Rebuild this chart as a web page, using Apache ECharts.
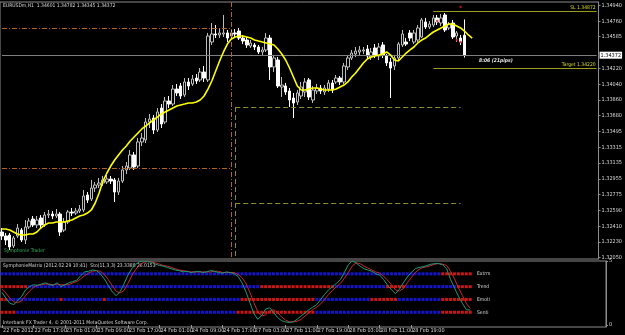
<!DOCTYPE html>
<html><head><meta charset="utf-8">
<script src="https://cdn.jsdelivr.net/npm/echarts@6/dist/echarts.min.js"></script>
<style>html,body{margin:0;padding:0;background:#000;}#c{width:625px;height:335px;}</style>
</head><body><div id="c"></div>
<script>
const timeLabels = ['22 Feb 2012','22 Feb 17:00','23 Feb 01:00','23 Feb 09:00','23 Feb 17:00','24 Feb 01:00','24 Feb 09:00','24 Feb 17:00','27 Feb 03:00','27 Feb 11:00','27 Feb 19:00','28 Feb 03:00','28 Feb 11:00','28 Feb 19:00','29 Feb 03:00'];
const priceTicks = [1.32050,1.32230,1.32410,1.32590,1.32775,1.32955,1.33135,1.33315,1.33495,1.33680,1.33860,1.34040,1.34220,1.34585,1.34760,1.34940];
const openP = [1.32344,1.32299,1.32310,1.32184,1.32299,1.32367,1.32253,1.32402,1.32493,1.32425,
1.32505,1.32425,1.32539,1.32551,1.32528,1.32551,1.32367,1.32459,1.32574,1.32562,
1.32585,1.32597,1.32769,1.32723,1.32849,1.32883,1.32906,1.32918,1.32952,1.32941,
1.32803,1.32929,1.33056,1.33078,1.33228,1.33101,1.33377,1.33400,1.33606,1.33652,
1.33514,1.33766,1.33606,1.33847,1.33812,1.33984,1.34019,1.33916,1.34065,1.34042,
1.34110,1.34088,1.34179,1.34088,1.34523,1.34615,1.34604,1.34615,1.34627,1.34592,
1.34627,1.34649,1.34569,1.34546,1.34477,1.34489,1.34466,1.34409,1.34432,1.34569,
1.34237,1.34317,1.34007,1.34019,1.33961,1.33881,1.33835,1.33904,1.33950,1.34088,
1.33858,1.33961,1.33996,1.33950,1.33984,1.34053,1.34065,1.34110,1.34065,1.34237,
1.34340,1.34386,1.34409,1.34420,1.34443,1.34351,1.34455,1.34363,1.34489,1.34363,
1.34294,1.34248,1.34340,1.34489,1.34523,1.34627,1.34523,1.34546,1.34581,1.34753,
1.34695,1.34718,1.34799,1.34741,1.34833,1.34684,1.34741,1.34592,1.34569,1.34601];
const closeP = [1.32299,1.32253,1.32173,1.32276,1.32390,1.32253,1.32402,1.32471,1.32425,1.32482,
1.32425,1.32539,1.32551,1.32528,1.32551,1.32344,1.32459,1.32574,1.32562,1.32585,
1.32608,1.32757,1.32711,1.32849,1.32883,1.32906,1.32941,1.32952,1.32929,1.32803,
1.32929,1.33056,1.33101,1.33228,1.33090,1.33377,1.33422,1.33606,1.33640,1.33514,
1.33721,1.33583,1.33847,1.33812,1.33984,1.33939,1.33904,1.34065,1.34019,1.34099,
1.34076,1.34179,1.34110,1.34592,1.34615,1.34604,1.34627,1.34627,1.34569,1.34627,
1.34615,1.34569,1.34535,1.34489,1.34512,1.34466,1.34409,1.34432,1.34569,1.34237,
1.34340,1.34019,1.34030,1.33950,1.33858,1.33824,1.33939,1.34007,1.34065,1.33893,
1.33973,1.33996,1.33961,1.33996,1.34053,1.33973,1.34110,1.34065,1.34248,1.34340,
1.34397,1.34420,1.34432,1.34432,1.34363,1.34409,1.34374,1.34466,1.34374,1.34283,
1.34225,1.34340,1.34500,1.34615,1.34500,1.34569,1.34627,1.34684,1.34776,1.34695,
1.34730,1.34799,1.34753,1.34799,1.34661,1.34730,1.34581,1.34627,1.34523,1.34372];
const lowP = [1.32253,1.32195,1.32138,1.32161,1.32276,1.32230,1.32207,1.32379,1.32402,1.32390,
1.32390,1.32402,1.32505,1.32493,1.32505,1.32299,1.32344,1.32436,1.32528,1.32539,
1.32562,1.32574,1.32677,1.32700,1.32803,1.32849,1.32872,1.32895,1.32895,1.32689,
1.32769,1.32906,1.33010,1.33056,1.33056,1.33078,1.33331,1.33365,1.33537,1.33468,
1.33491,1.33537,1.33583,1.33766,1.33789,1.33904,1.33870,1.33893,1.33973,1.34019,
1.34042,1.34065,1.34065,1.34065,1.34489,1.34569,1.34569,1.34581,1.34523,1.34546,
1.34581,1.34546,1.34500,1.34455,1.34455,1.34432,1.34386,1.34374,1.34409,1.34088,
1.34179,1.33996,1.33893,1.33916,1.33778,1.33652,1.33801,1.33870,1.33893,1.33858,
1.33824,1.33927,1.33927,1.33916,1.33950,1.33939,1.34042,1.34030,1.34042,1.34202,
1.34317,1.34351,1.34374,1.34386,1.34340,1.34317,1.34340,1.34317,1.34340,1.34248,
1.33881,1.34202,1.34317,1.34466,1.34477,1.34535,1.34500,1.34523,1.34569,1.34672,
1.34672,1.34695,1.34718,1.34707,1.34638,1.34661,1.34558,1.34523,1.34489,1.34345];
const highP = [1.32390,1.32333,1.32333,1.32299,1.32436,1.32390,1.32482,1.32505,1.32528,1.32528,
1.32539,1.32574,1.32597,1.32585,1.32608,1.32574,1.32505,1.32597,1.32620,1.32620,
1.32654,1.32826,1.32803,1.32941,1.32918,1.32964,1.32987,1.32998,1.32987,1.32964,
1.32964,1.33101,1.33147,1.33285,1.33262,1.33422,1.33480,1.33652,1.33698,1.33686,
1.33766,1.33812,1.33893,1.33904,1.34030,1.34042,1.34053,1.34110,1.34110,1.34145,
1.34156,1.34225,1.34248,1.34627,1.34741,1.34718,1.34684,1.34833,1.34661,1.34661,
1.34672,1.34684,1.34604,1.34581,1.34546,1.34512,1.34489,1.34466,1.34627,1.34604,
1.34374,1.34351,1.34122,1.34053,1.33996,1.33939,1.33973,1.34065,1.34110,1.34110,
1.34019,1.34042,1.34030,1.34030,1.34088,1.34088,1.34145,1.34133,1.34283,1.34374,
1.34432,1.34466,1.34477,1.34466,1.34489,1.34455,1.34500,1.34512,1.34523,1.34386,
1.34340,1.34374,1.34523,1.34661,1.34569,1.34661,1.34661,1.34718,1.34799,1.34799,
1.34764,1.34833,1.34833,1.34844,1.34856,1.34753,1.34776,1.34649,1.34604,1.34782];
const maLine = [1.32379,1.32379,1.32367,1.32344,1.32321,1.32310,1.32310,1.32321,1.32321,1.32344,
1.32390,1.32425,1.32448,1.32448,1.32459,1.32459,1.32459,1.32471,1.32482,1.32505,
1.32528,1.32540,1.32562,1.32597,1.32677,1.32792,1.32929,1.33021,1.33101,1.33170,
1.33228,1.33285,1.33331,1.33388,1.33434,1.33480,1.33526,1.33560,1.33595,1.33629,
1.33663,1.33698,1.33721,1.33744,1.33767,1.33789,1.33801,1.33812,1.33824,1.33824,
1.33835,1.33858,1.33904,1.33984,1.34076,1.34191,1.34305,1.34409,1.34500,1.34558,
1.34581,1.34592,1.34592,1.34581,1.34569,1.34546,1.34535,1.34523,1.34512,1.34500,
1.34489,1.34443,1.34386,1.34317,1.34225,1.34122,1.34019,1.33973,1.33973,1.33984,
1.33996,1.33996,1.33984,1.33973,1.33973,1.33973,1.33984,1.34007,1.34030,1.34065,
1.34122,1.34168,1.34225,1.34283,1.34328,1.34351,1.34363,1.34374,1.34386,1.34409,
1.34374,1.34317,1.34305,1.34351,1.34397,1.34432,1.34466,1.34512,1.34546,1.34569,
1.34604,1.34638,1.34661,1.34684,1.34707,1.34730,1.34730,1.34707,1.34684,1.34649,
1.34604,1.34569];
const stoMain = [51,42,34,32,38,45,55,60,63,62,64,66,63,62,66,60,63,66,68,70,
77,83,84,86,85,80,72,62,52,46,52,64,78,88,95,99,100,99,98,95,
93,92,90,88,86,85,83,84,82,83,84,82,83,85,84,82,81,83,82,80,
76,66,52,35,18,9,15,25,27,20,12,7,5,4,5,9,14,19,24,28,
32,40,48,55,60,65,71,82,94,100,97,92,88,86,84,80,78,71,62,55,
49,56,66,75,82,88,90,91,93,95,96,96,94,88,71,58,45,34,24,23.34];
const stoSignal = [56,50,42,36,35,38,46,53,59,62,63,64,64,63,64,63,63,63,66,68,
72,77,81,84,85,84,79,71,62,53,50,54,65,77,87,94,98,99,99,97,
95,93,92,90,88,86,85,84,83,83,83,83,83,83,84,84,82,82,82,82,
79,74,65,51,35,21,14,16,22,24,20,13,8,5,5,6,9,14,19,24,
28,33,40,48,54,60,65,73,82,92,97,96,92,89,86,83,81,76,70,63,
55,53,57,66,74,82,87,90,91,93,95,96,95,93,84,72,58,46,34,26.02];
const rowNames = ['Extrm','Trend','Emoti','Senti'];
const rowLevels = [4,3,2,1];
const rowRuns = [
  [['B',112],['R',8]],
  [['R',7],['B',59],['R',19],['B',13],['R',5],['B',13],['R',4]],
  [['R',2],['B',13],['R',1],['B',10],['R',1],['B',34],['R',19],['B',14],['R',7],['B',11],['R',8]],
  [['R',4],['B',56],['R',20],['B',32],['R',8]]
];
const redMarks = [[112, 1.34764], [117, 1.34546], [118, 1.34523], [118, 1.34925]];
const lastPrice = 1.34372, slPrice = 1.34872, targetPrice = 1.34220;
const orangeLevels = [1.34684, 1.33078];
const oliveLevels = [1.33778, 1.32677];
const axisMin = 1.32035, axisMax = 1.34982;

const SLOTS = 154;
const cats = Array.from({length: SLOTS}, (_, i) => String(i));
const FONT = "'Liberation Sans Narrow', 'DejaVu Sans Condensed', 'Liberation Sans', sans-serif";
const FS = 5;

const candleData = openP.map((o, i) => [o, closeP[i], lowP[i], highP[i]]);
const squareData = [];
rowRuns.forEach((runs, r) => {
  let idx = 0;
  runs.forEach(([c, n]) => {
    for (let k = 0; k < n; k++) {
      squareData.push({value: [idx, rowLevels[r]], itemStyle: {color: c === 'R' ? '#ff1a1a' : '#1a1aff'}});
      idx++;
    }
  });
});

const orange = {color: '#b8641e', type: [5, 2, 1, 2], width: 1};
const olive = {color: '#8c8c28', type: [5, 3], width: 1};
const showTick = (i) => i % 8 === 0 && i / 8 < timeLabels.length;
const txt = (t, x, y, fill, extra) => ({type: 'text', left: x, top: y, style: {text: t, fill: fill, font: (extra || '') + FS + 'px ' + FONT}});

const chart = echarts.init(document.getElementById('c'), null, {renderer: 'canvas'});
chart.setOption({
  animation: false,
  backgroundColor: '#000000',
  textStyle: {fontFamily: FONT},
  grid: [
    {left: 0, right: 19, top: 2, height: 257, show: true, borderColor: '#8c8c8c', borderWidth: 1},
    {left: 0, right: 19, top: 261, height: 66, show: true, borderColor: '#8c8c8c', borderWidth: 1}
  ],
  xAxis: [
    {type: 'category', gridIndex: 0, data: cats, boundaryGap: true, axisLine: {show: false}, axisTick: {show: false}, axisLabel: {show: false}, splitLine: {show: false}},
    {type: 'category', gridIndex: 1, data: cats, boundaryGap: true, position: 'bottom',
      axisLine: {show: false},
      axisTick: {show: true, alignWithLabel: true, length: 3, interval: showTick, lineStyle: {color: '#9a9a9a'}},
      axisLabel: {show: true, interval: showTick, formatter: (v, i) => timeLabels[i / 8] || '',
        color: '#d8d8d8', fontSize: FS + 0.5, fontFamily: FONT, align: 'left', margin: 1, padding: [0, 0, 0, 1],
        hideOverlap: false, showMinLabel: true, showMaxLabel: false},
      splitLine: {show: false}}
  ],
  yAxis: [
    {type: 'value', gridIndex: 0, position: 'right', min: axisMin, max: axisMax,
      axisLine: {show: true, lineStyle: {color: '#8c8c8c'}},
      axisTick: {show: true, length: 2, customValues: priceTicks, lineStyle: {color: '#8c8c8c'}},
      axisLabel: {show: true, customValues: priceTicks, formatter: (v) => v.toFixed(5), color: '#dcdcdc', fontSize: FS + 0.5, fontFamily: FONT, margin: 3},
      splitLine: {show: false}},
    {type: 'value', gridIndex: 1, position: 'right', min: -0.15, max: 5,
      axisLine: {show: true, lineStyle: {color: '#8c8c8c'}},
      axisTick: {show: true, length: 2, customValues: [0, 5], lineStyle: {color: '#8c8c8c'}},
      axisLabel: {show: true, customValues: [0, 5], formatter: (v) => String(v), color: '#dcdcdc', fontSize: FS + 0.5, fontFamily: FONT, margin: 3},
      splitLine: {show: false}},
    {type: 'value', gridIndex: 1, min: -3, max: 100, show: false}
  ],
  series: [
    {type: 'candlestick', xAxisIndex: 0, yAxisIndex: 0, data: candleData, barWidth: 3,
      itemStyle: {color: '#000000', color0: '#ffffff', borderColor: '#bdbdbd', borderColor0: '#ffffff', borderWidth: 1}},
    {type: 'line', xAxisIndex: 0, yAxisIndex: 0, data: maLine, showSymbol: false, symbol: 'none',
      lineStyle: {color: '#ffff00', width: 1.6}, z: 5,
      markLine: {symbol: 'none', silent: true, animation: false, data: [
        [{coord: [0, lastPrice], lineStyle: {color: '#808080', type: 'solid', width: 1},
          label: {show: true, position: 'end', formatter: lastPrice.toFixed(5), color: '#000', backgroundColor: '#ffffff', fontSize: FS + 0.5, fontFamily: FONT, padding: [1, 1, 0, 1], distance: 3}},
         {coord: [SLOTS - 1, lastPrice]}],
        [{coord: [111, slPrice], lineStyle: {color: '#9c9c20', type: 'solid', width: 1},
          label: {show: true, position: 'insideEndTop', formatter: 'SL ' + slPrice.toFixed(5), color: '#d8d820', fontSize: FS, fontFamily: FONT, distance: 1}},
         {coord: [SLOTS - 1, slPrice]}],
        [{coord: [111, targetPrice], lineStyle: {color: '#9c9c20', type: 'solid', width: 1},
          label: {show: true, position: 'insideEndTop', formatter: 'Target ' + targetPrice.toFixed(5), color: '#d8d820', fontSize: FS, fontFamily: FONT, distance: 1}},
         {coord: [SLOTS - 1, targetPrice]}],
        [{coord: [0, orangeLevels[0]], lineStyle: orange, label: {show: false}}, {coord: [59, orangeLevels[0]]}],
        [{coord: [0, orangeLevels[1]], lineStyle: orange, label: {show: false}}, {coord: [59, orangeLevels[1]]}],
        [{coord: [59, axisMax], lineStyle: orange, label: {show: false}}, {coord: [59, axisMin]}],
        [{coord: [60, oliveLevels[0]], lineStyle: olive, label: {show: false}}, {coord: [60, axisMin]}],
        [{coord: [60, oliveLevels[0]], lineStyle: olive, label: {show: false}}, {coord: [118, oliveLevels[0]]}],
        [{coord: [60, oliveLevels[1]], lineStyle: olive, label: {show: false}}, {coord: [118, oliveLevels[1]]}]
      ]}},
    {type: 'scatter', xAxisIndex: 0, yAxisIndex: 0, data: redMarks, symbol: 'circle', symbolSize: 2.5,
      itemStyle: {color: '#d01818'}, z: 6},
    {type: 'line', xAxisIndex: 1, yAxisIndex: 2, data: stoSignal, showSymbol: false, symbol: 'none',
      lineStyle: {color: '#c8282a', width: 1}},
    {type: 'line', xAxisIndex: 1, yAxisIndex: 2, data: stoMain, showSymbol: false, symbol: 'none',
      lineStyle: {color: '#1e9a78', width: 1}},
    {type: 'scatter', xAxisIndex: 1, yAxisIndex: 1, data: squareData, symbol: 'rect', symbolSize: [3, 3], z: 1}
  ],
  graphic: [
    txt('EURUSDm,H1  1.34601 1.34782 1.34345 1.34372', 3, 3, '#d8d8d8'),
    txt('Symphonie Trader', 4, 248, '#2cb25a'),
    txt('8:06 (21pips)', 479, 58, '#e6e6e6', 'italic bold '),
    txt('SymphonieMatrix (2012.02.29 10:41)  Sto(11,3,3) 23.3388 26.0153', 3, 263, '#d8d8d8'),
    txt('Interbank FX Trader 4, \u00a9 2001-2011 MetaQuotes Software Corp.', 3, 320, '#d8d8d8'),
    txt(rowNames[0], 477, 271, '#d8d8d8'),
    txt(rowNames[1], 477, 284, '#d8d8d8'),
    txt(rowNames[2], 477, 297, '#d8d8d8'),
    txt(rowNames[3], 477, 310, '#d8d8d8')
  ]
});
</script></body></html>
